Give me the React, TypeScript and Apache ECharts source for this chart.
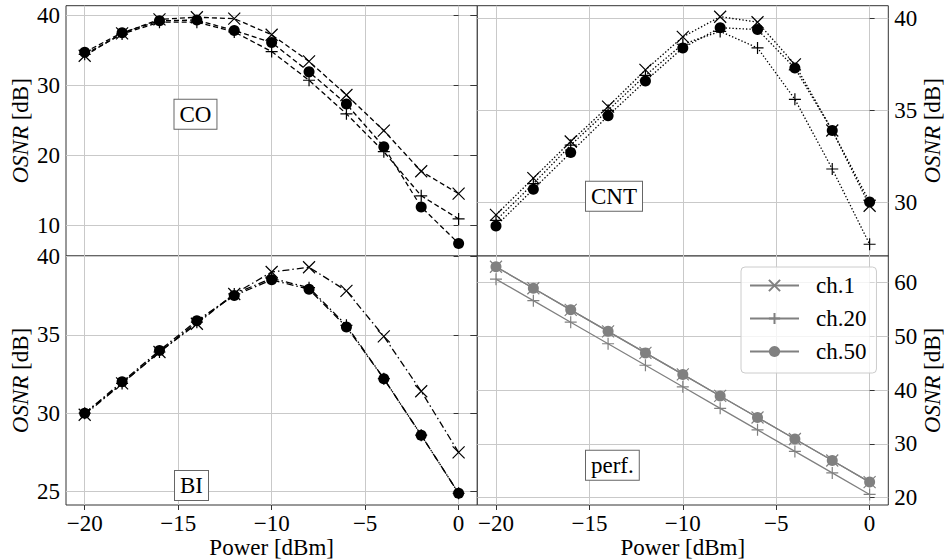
import React, { useEffect, useRef } from 'react';
import * as echarts from 'echarts';

// ---- data ----
const powers = [-20, -18, -16, -14, -12, -10, -8, -6, -4, -2, 0];

const coCh1 = [34.2, 37.4, 39.4, 39.7, 39.5, 37.2, 33.4, 28.6, 23.5, 17.7, 14.5];
const coCh20 = [34.4, 37.3, 39.0, 39.0, 37.6, 34.8, 30.7, 25.9, 20.5, 14.2, 10.9];
const coCh50 = [34.7, 37.5, 39.2, 39.3, 37.8, 36.1, 31.9, 27.3, 21.2, 12.6, 7.4];

const cntCh1 = [29.3, 31.3, 33.3, 35.2, 37.2, 39.0, 40.1, 39.8, 37.5, 33.9, 29.8];
const cntCh20 = [29.0, 31.0, 33.1, 35.0, 36.9, 38.6, 39.3, 38.4, 35.6, 31.8, 27.7];
const cntCh50 = [28.7, 30.7, 32.7, 34.7, 36.6, 38.4, 39.5, 39.4, 37.3, 33.9, 30.0];

const biCh1 = [29.9, 31.9, 33.9, 35.7, 37.6, 39.0, 39.3, 37.8, 34.9, 31.4, 27.5];
const biCh20 = [30.0, 31.9, 33.9, 35.8, 37.6, 38.6, 38.0, 35.6, 32.2, 28.6, 24.9];
const biCh50 = [30.0, 32.0, 34.0, 35.9, 37.5, 38.5, 37.9, 35.5, 32.2, 28.6, 24.9];

const perfCh1 = [62.9, 58.9, 54.9, 50.9, 46.9, 42.9, 38.9, 34.9, 30.9, 26.9, 22.9];
const perfCh20 = [60.6, 56.6, 52.6, 48.6, 44.6, 40.6, 36.6, 32.6, 28.6, 24.6, 20.6];
const perfCh50 = [62.9, 58.9, 54.9, 50.9, 46.9, 42.9, 38.9, 34.9, 30.9, 26.9, 22.9];

const xTicks = [-20, -15, -10, -5, 0];
const coTicks = [10, 20, 30, 40];
const cntTicks = [30, 35, 40];
const biTicks = [25, 30, 35, 40];
const perfTicks = [20, 30, 40, 50, 60];

const panelLabels = ['CO', 'CNT', 'BI', 'perf.'];
const channelNames = ['ch.1', 'ch.20', 'ch.50'];

// ---- styling ----
const FONT = 'Liberation Serif, Times New Roman, serif';
const FS = 23;
const SPINE = '#333333';
const GRIDC = '#c9c9c9';
const CROSS = 'path://M0,0L10,10M10,0L0,10';
const PLUS = 'path://M5,0L5,10M0,5L10,5';

const fmt = (v: number) => (v < 0 ? '\u2212' + Math.abs(v) : String(v));

export default function App() {
  const ref = useRef<HTMLDivElement>(null);

  useEffect(() => {
    if (!ref.current) return;
    const chart = echarts.init(ref.current, undefined, { renderer: 'svg' });

    const grids = [
      { left: 66, top: 5.7, width: 411.3, height: 250.3 },
      { left: 477.3, top: 5.7, width: 411, height: 250.3 },
      { left: 66, top: 256, width: 411.3, height: 249 },
      { left: 477.3, top: 256, width: 411, height: 249 },
    ].map((g) => ({ ...g, show: true, borderColor: SPINE, borderWidth: 1, backgroundColor: '#fff' }));

    const yRanges = [
      { min: 5.6, max: 41.35, ticks: coTicks, pos: 'left' },
      { min: 27.06, max: 40.7, ticks: cntTicks, pos: 'right' },
      { min: 24.15, max: 40.02, ticks: biTicks, pos: 'left' },
      { min: 18.64, max: 64.9, ticks: perfTicks, pos: 'right' },
    ];

    const xAxis = grids.map((_, i) => {
      const bottom = i >= 2;
      return {
        type: 'value',
        gridIndex: i,
        min: -21,
        max: 1,
        position: 'bottom',
        axisLine: { show: false },
        splitLine: { show: true, lineStyle: { color: GRIDC, width: 1 } },
        axisTick: {
          show: bottom,
          length: 5,
          customValues: xTicks,
          lineStyle: { color: SPINE, width: 1 },
        },
        axisLabel: {
          show: bottom,
          customValues: xTicks,
          formatter: fmt,
          fontFamily: FONT,
          fontSize: FS,
          color: '#000',
          margin: 7,
        },
        name: bottom ? 'Power [dBm]' : '',
        nameLocation: 'middle',
        nameGap: 31,
        nameTextStyle: { fontFamily: FONT, fontSize: FS, color: '#000' },
      };
    });

    const yAxis: any[] = yRanges.map((r, i) => ({
      type: 'value',
      gridIndex: i,
      min: r.min,
      max: r.max,
      position: r.pos,
      axisLine: { show: false },
      splitLine: { show: true, lineStyle: { color: GRIDC, width: 1 } },
      axisTick: { show: true, length: 5, customValues: r.ticks, lineStyle: { color: SPINE, width: 1 } },
      axisLabel: {
        show: true,
        customValues: r.ticks,
        formatter: fmt,
        fontFamily: FONT,
        fontSize: FS,
        color: '#000',
        margin: 6,
      },
      name: '{i|OSNR} [dB]',
      nameLocation: 'middle',
      nameRotate: 90,
      nameGap: r.pos === 'left' ? 34 : 32,
      nameTextStyle: {
        fontFamily: FONT,
        fontSize: FS,
        color: '#000',
        rich: { i: { fontStyle: 'italic', fontFamily: FONT, fontSize: FS, color: '#000' } },
      },
    }));

    // mirrored inward ticks on the right border of left panels
    [0, 2].forEach((i) => {
      const r = yRanges[i];
      yAxis.push({
        type: 'value',
        gridIndex: i,
        min: r.min,
        max: r.max,
        position: 'right',
        axisLine: { show: false },
        splitLine: { show: false },
        axisLabel: { show: false, customValues: r.ticks },
        axisTick: { show: true, inside: true, length: 7, customValues: r.ticks, lineStyle: { color: SPINE, width: 1 } },
      });
    });

    const mk = (arr: number[]) => powers.map((p, k) => [p, arr[k]]);

    const panelData = [
      [coCh1, coCh20, coCh50],
      [cntCh1, cntCh20, cntCh50],
      [biCh1, biCh20, biCh50],
      [perfCh1, perfCh20, perfCh50],
    ];
    const dashes: any[] = [[5, 3], [1.4, 2], [7, 3, 1.5, 3], 'solid'];
    const symbols = [CROSS, PLUS, 'circle'];
    const sizes = [12, 12, 11];

    const series: any[] = [];
    panelData.forEach((group, pi) => {
      const color = pi === 3 ? '#808080' : '#000000';
      group.forEach((arr, ci) => {
        const isPath = ci < 2;
        series.push({
          type: 'line',
          name: pi === 3 ? channelNames[ci] : panelLabels[pi] + ' ' + channelNames[ci],
          xAxisIndex: pi,
          yAxisIndex: pi,
          data: mk(arr),
          symbol: symbols[ci],
          symbolSize: sizes[ci],
          showSymbol: true,
          lineStyle: { color, width: 1.3, type: dashes[pi] },
          itemStyle: isPath
            ? { color: 'rgba(0,0,0,0)', borderColor: color, borderWidth: 1.2 }
            : { color, borderWidth: 0 },
          emphasis: { disabled: true },
          z: 3 + ci,
        });
      });
    });

    const boxes = [
      { x: 174.5, y: 114.2, t: panelLabels[0] },
      { x: 586, y: 196.3, t: panelLabels[1] },
      { x: 175, y: 485.5, t: panelLabels[2] },
      { x: 586, y: 465.3, t: panelLabels[3] },
    ];

    chart.setOption({
      animation: false,
      textStyle: { fontFamily: FONT },
      grid: grids,
      xAxis,
      yAxis,
      series,
      legend: {
        data: channelNames,
        orient: 'vertical',
        left: 741,
        top: 267,
        itemWidth: 49,
        itemHeight: 14,
        itemGap: 8,
        padding: [6, 10, 9, 8],
        backgroundColor: 'rgba(255,255,255,0.8)',
        borderColor: '#cccccc',
        borderWidth: 1,
        borderRadius: 4,
        selectedMode: false,
        textStyle: { fontFamily: FONT, fontSize: FS, color: '#000', lineHeight: 25, padding: [0, 0, 0, 12] },
      },
      graphic: boxes.map((b) => ({
        type: 'text',
        x: b.x,
        y: b.y,
        z: 20,
        style: {
          text: b.t,
          fontFamily: FONT,
          fontSize: FS,
          fill: '#000',
          align: 'left',
          verticalAlign: 'middle',
          backgroundColor: '#fff',
          borderColor: '#666',
          borderWidth: 1,
          padding: [3, 5, 3, 5],
        },
      })),
    });

    return () => chart.dispose();
  }, []);

  return (
    <div
      ref={ref}
      style={{ position: 'absolute', left: 0, top: 0, width: 946, height: 560, background: '#fff' }}
    />
  );
}
